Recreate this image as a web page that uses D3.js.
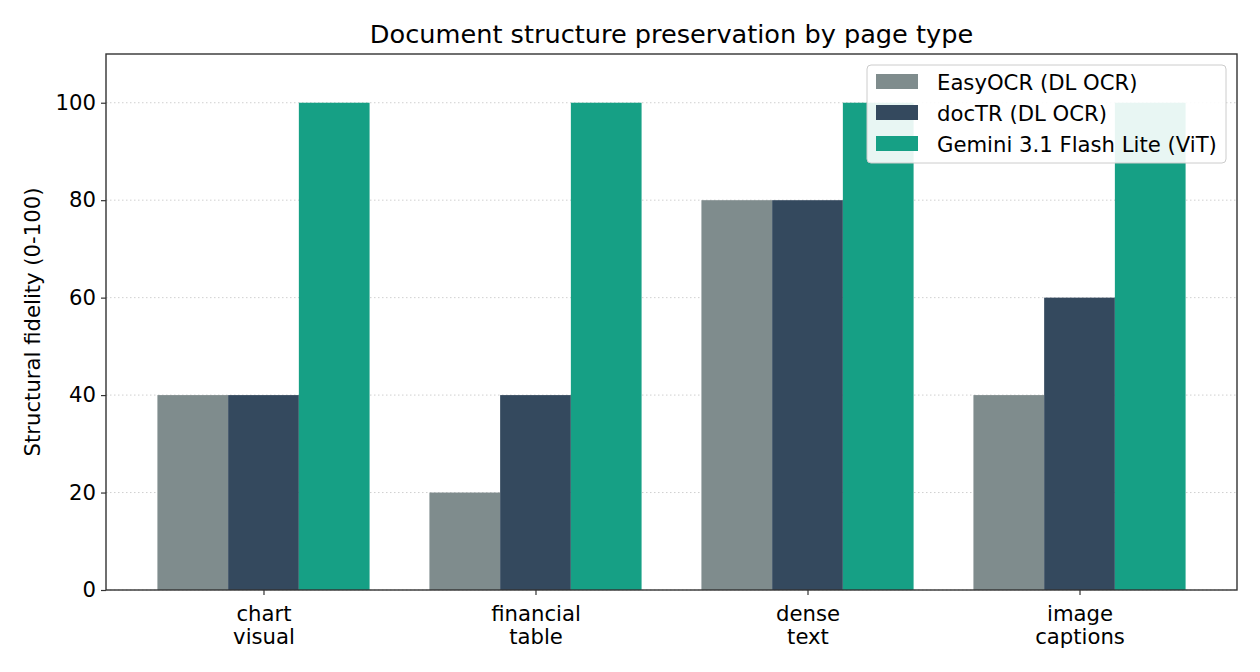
<!DOCTYPE html>
<html>
<head>
<meta charset="utf-8">
<script src="https://cdn.jsdelivr.net/npm/d3@7"></script>
<style>
  body { margin: 0; background: #fff; }
  svg { display: block; }
  svg text { font-family: "DejaVu Sans", sans-serif; }
</style>
</head>
<body>
<div id="chart"></div>
<script>
const categories = ['chart\nvisual', 'financial\ntable', 'dense\ntext', 'image\ncaptions'];
const seriesNames = ['EasyOCR (DL OCR)', 'docTR (DL OCR)', 'Gemini 3.1 Flash Lite (ViT)'];
const easyocr = [40, 20, 80, 40];
const doctr = [40, 40, 80, 60];
const gemini = [100, 100, 100, 100];
const yTicks = [0, 20, 40, 60, 80, 100];

const colors = ['#7f8c8d', '#34495e', '#16a085'];
const series = [easyocr, doctr, gemini];

const width = 1260;
const height = 672;
const margin = { top: 54, right: 23, bottom: 82, left: 106 };
const innerW = width - margin.left - margin.right;
const innerH = height - margin.top - margin.bottom;
const barW = 0.26;
const fs = 21.2;

const svg = d3.select('#chart').append('svg')
    .attr('width', width)
    .attr('height', height);

const g = svg.append('g')
    .attr('transform', `translate(${margin.left},${margin.top})`);

// matplotlib-like x range with 5% padding
const lo = -1.5 * barW, hi = categories.length - 1 + 1.5 * barW;
const pad = (hi - lo) * 0.05;
const x = d3.scaleLinear().domain([lo - pad, hi + pad]).range([0, innerW]);
const y = d3.scaleLinear().domain([0, 110]).range([innerH, 0]);

// grid
g.append('g').selectAll('line')
    .data(yTicks)
    .enter().append('line')
    .attr('x1', 0).attr('x2', innerW)
    .attr('y1', d => y(d)).attr('y2', d => y(d))
    .attr('stroke', '#b0b0b0')
    .attr('stroke-opacity', 0.6)
    .attr('stroke-width', 1)
    .attr('stroke-dasharray', '1.5,2.5');

// bars
series.forEach((vals, s) => {
    g.append('g').selectAll('rect')
        .data(vals)
        .enter().append('rect')
        .attr('x', (d, i) => x(i + (s - 1) * barW - barW / 2))
        .attr('width', x(barW) - x(0))
        .attr('y', d => y(d))
        .attr('height', d => y(0) - y(d))
        .attr('fill', colors[s]);
});

// axes
const yAxis = g.append('g')
    .call(d3.axisLeft(y).tickValues(yTicks).tickSize(5).tickPadding(5));
const xAxis = g.append('g')
    .attr('transform', `translate(0,${innerH})`)
    .call(d3.axisBottom(x).tickValues(d3.range(categories.length)).tickSize(5).tickFormat(''));

[yAxis, xAxis].forEach(a => {
    a.attr('font-family', null).attr('font-size', null);
    a.select('.domain').remove();
    a.selectAll('.tick line').attr('stroke', '#333').attr('stroke-width', 1.2);
    a.selectAll('.tick text').attr('fill', '#000').style('font-size', fs + 'px');
});

// x tick labels, two lines
xAxis.selectAll('.tick').each(function (d) {
    const t = d3.select(this).append('text')
        .attr('text-anchor', 'middle')
        .attr('fill', '#000')
        .style('font-size', fs + 'px');
    categories[d].split('\n').forEach((line, k) => {
        t.append('tspan').attr('x', 0).attr('y', 31 + k * 22.5).text(line);
    });
});

// frame
g.append('rect')
    .attr('width', innerW).attr('height', innerH)
    .attr('fill', 'none')
    .attr('stroke', '#333')
    .attr('stroke-width', 1.4);

// title
svg.append('text')
    .attr('x', margin.left + innerW / 2)
    .attr('y', 43)
    .attr('text-anchor', 'middle')
    .style('font-size', '25.6px')
    .text('Document structure preservation by page type');

// y label
svg.append('text')
    .attr('transform', `translate(40,${margin.top + innerH / 2}) rotate(-90)`)
    .attr('text-anchor', 'middle')
    .style('font-size', fs + 'px')
    .text('Structural fidelity (0-100)');

// legend
const legend = svg.append('g').attr('transform', 'translate(867,65)');
legend.append('rect')
    .attr('width', 359).attr('height', 98)
    .attr('rx', 4)
    .attr('fill', '#fff').attr('fill-opacity', 0.9)
    .attr('stroke', '#cccccc');
seriesNames.forEach((name, i) => {
    const row = legend.append('g').attr('transform', `translate(9,${17 + i * 31})`);
    row.append('rect')
        .attr('width', 42).attr('height', 15)
        .attr('y', -8)
        .attr('fill', colors[i]);
    row.append('text')
        .attr('x', 61).attr('y', 7.5)
        .style('font-size', fs + 'px')
        .text(name);
});
</script>
</body>
</html>
